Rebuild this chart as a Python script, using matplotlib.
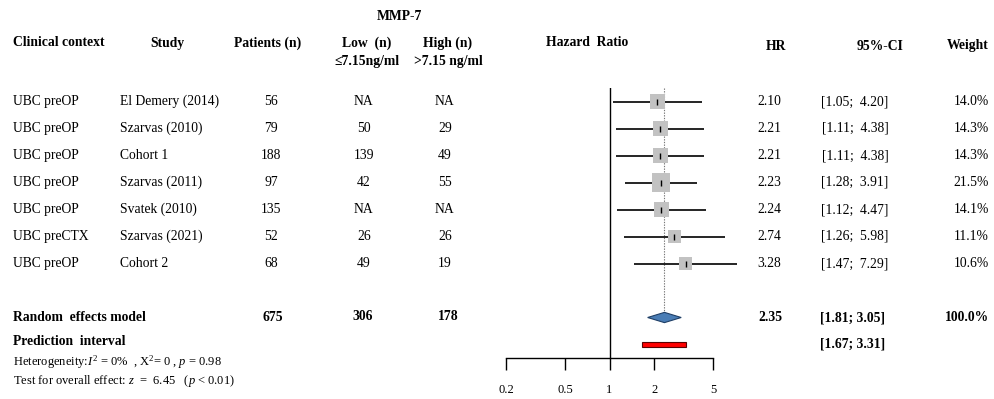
import numpy as np
import matplotlib
matplotlib.use("Agg")
import matplotlib.pyplot as plt
import matplotlib.transforms as mtransforms

plt.rcParams['font.family'] = ['Liberation Serif', 'DejaVu Serif']
plt.rcParams['mathtext.fontset'] = 'custom'
plt.rcParams['mathtext.rm'] = 'Liberation Serif'
plt.rcParams['mathtext.it'] = 'Liberation Serif:italic'

# data
context = ["UBC preOP", "UBC preOP", "UBC preOP", "UBC preOP", "UBC preOP", "UBC preCTX", "UBC preOP"]
studies = ["El Demery (2014)", "Szarvas (2010)", "Cohort 1", "Szarvas (2011)",
           "Svatek (2010)", "Szarvas (2021)", "Cohort 2"]
patients = [56, 79, 188, 97, 135, 52, 68]
low_n = ["NA", "50", "139", "42", "NA", "26", "49"]
high_n = ["NA", "29", "49", "55", "NA", "26", "19"]
hr = [2.10, 2.21, 2.21, 2.23, 2.24, 2.74, 3.28]
ci_low = [1.05, 1.11, 1.11, 1.28, 1.12, 1.26, 1.47]
ci_high = [4.20, 4.38, 4.38, 3.91, 4.47, 5.98, 7.29]
weight = [14.0, 14.3, 14.3, 21.5, 14.1, 11.1, 10.6]

pooled_hr, pooled_lo, pooled_hi = 2.35, 1.81, 3.05
pred_lo, pred_hi = 1.67, 3.31
tot_patients, tot_low, tot_high = 675, 306, 178
xticks = [0.2, 0.5, 1, 2, 5]

W, H = 994, 399
fig = plt.figure(figsize=(W / 100, H / 100), dpi=100)

# forest axes: x from 506 to 713 px, y from 88 to 358 px
ax = fig.add_axes([506 / W, 1 - 358 / H, (713 - 506) / W, (358 - 88) / H])
ax.set_xscale('log')
ax.set_xlim(0.2, 5)
ax.set_ylim(9.5, -0.5)
rows = np.arange(len(hr))
pooled_row = 8
pred_row = 9

ax.axvline(1, color='black', lw=1)
ax.vlines(pooled_hr, -0.5, pooled_row - 0.18, color='#777777', lw=0.8, linestyles=(0, (1.2, 1.2)))
ax.hlines(rows, ci_low, ci_high, color='black', lw=1.2, zorder=2, clip_on=False)
ax.scatter(hr, rows, s=np.array(weight) * 8.5, marker='s', color='#c2c2c2', lw=0, zorder=3)
ax.scatter(hr, rows, s=25, marker='|', color='black', lw=1, zorder=4)

# pooled diamond
ax.fill([pooled_lo, pooled_hr, pooled_hi, pooled_hr],
        [pooled_row, pooled_row - 0.19, pooled_row, pooled_row + 0.19],
        facecolor='#4a7db5', edgecolor='#1f3f66', lw=0.8, zorder=3)
# prediction interval
ax.fill([pred_lo, pred_hi, pred_hi, pred_lo],
        [pred_row - 0.09, pred_row - 0.09, pred_row + 0.09, pred_row + 0.09],
        facecolor='#ff0000', edgecolor='#5a0000', lw=0.8, zorder=3)

for s in ['top', 'right', 'left']:
    ax.spines[s].set_visible(False)
ax.spines['bottom'].set_linewidth(1)
ax.set_yticks([])
ax.set_xticks(xticks)
ax.set_xticklabels([str(t) for t in xticks])
ax.xaxis.set_minor_locator(matplotlib.ticker.NullLocator())
ax.tick_params(axis='x', direction='out', length=8.5, width=1, pad=10, labelsize=9)

# text
bt = mtransforms.blended_transform_factory(fig.transFigure, ax.transData)
fs = 9.8


def ftext(x, y, s, **kw):
    fig.text(x / W, 1 - y / H, s, **kw)


def rtext(x, row, s, **kw):
    fig.text(x / W, row, s, transform=bt, va='center', **kw)


# header
hb = dict(fontsize=fs, fontweight='bold', va='center')
ftext(399, 17, "MMP-7", ha='center', **hb)
ftext(13, 43, "Clinical context", ha='left', **hb)
ftext(167, 43, "Study", ha='center', **hb)
ftext(268, 43, "Patients (n)", ha='center', **hb)
ftext(367, 43, "Low  (n)", ha='center', **hb)
ftext(448, 43, "High (n)", ha='center', **hb)
ftext(367, 61, "≤7.15ng/ml", ha='center', **hb)
ftext(448, 61, ">7.15 ng/ml", ha='center', **hb)
ftext(587, 43, "Hazard  Ratio", ha='center', **hb)
ftext(776, 46, "HR", ha='center', **hb)
ftext(880, 46, "95%-CI", ha='center', **hb)
ftext(968, 46, "Weight", ha='center', **hb)

for i in rows:
    rtext(13, i, context[i], ha='left', fontsize=fs)
    rtext(120, i, studies[i], ha='left', fontsize=fs)
    rtext(271, i, str(patients[i]), ha='center', fontsize=fs)
    rtext(364, i, low_n[i], ha='center', fontsize=fs)
    rtext(445, i, high_n[i], ha='center', fontsize=fs)
    rtext(769, i, f"{hr[i]:.2f}", ha='center', fontsize=fs)
    rtext(855, i, f"[{ci_low[i]:.2f};  {ci_high[i]:.2f}]", ha='center', fontsize=fs)
    rtext(989, i, f"{weight[i]:.1f}%", ha='right', fontsize=fs)

rb = dict(fontsize=fs, fontweight='bold')
rtext(13, pooled_row, "Random  effects model", ha='left', **rb)
rtext(273, pooled_row, str(tot_patients), ha='center', **rb)
rtext(363, pooled_row - 0.05, str(tot_low), ha='center', **rb)
rtext(448, pooled_row - 0.05, str(tot_high), ha='center', **rb)
rtext(770, pooled_row, f"{pooled_hr:.2f}", ha='center', **rb)
rtext(853, pooled_row, f"[{pooled_lo:.2f}; {pooled_hi:.2f}]", ha='center', **rb)
rtext(989, pooled_row, "100.0%", ha='right', **rb)

rtext(13, pred_row - 0.1, "Prediction  interval", ha='left', **rb)
rtext(853, pred_row, f"[{pred_lo:.2f}; {pred_hi:.2f}]", ha='center', **rb)

ftext(13, 362, r"Heterogeneity:$I^2$ = 0%  , X$^2$= 0 , $p$ = 0.98", ha='left', va='center', fontsize=9)
ftext(13, 381, r"Test for overall effect: $z$  =  6.45   ($p$ < 0.01)", ha='left', va='center', fontsize=9)

fig.savefig("out.png", dpi=100, facecolor='white')
